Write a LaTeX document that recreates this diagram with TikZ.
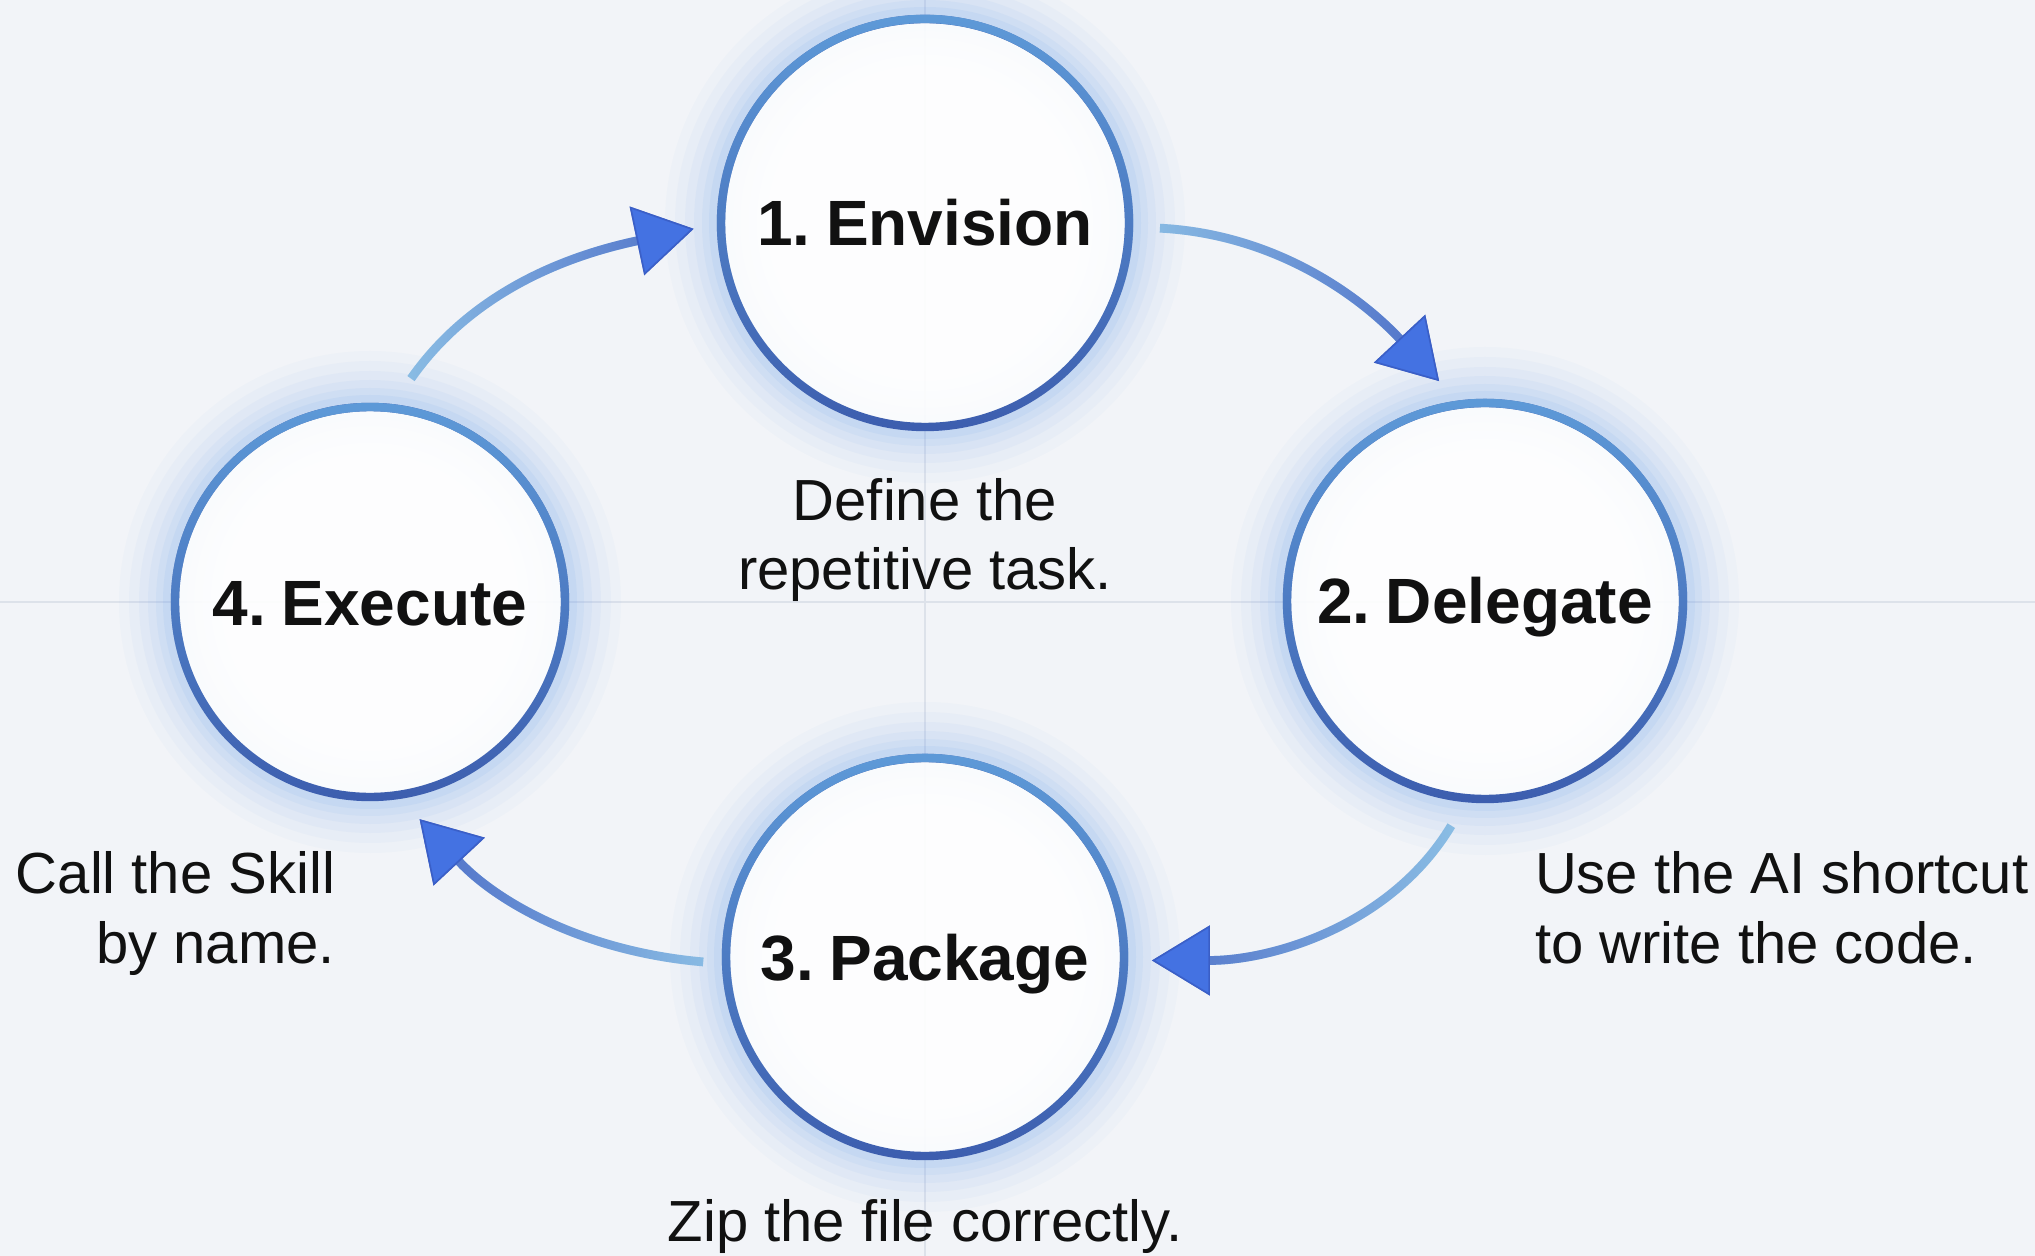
\documentclass[tikz,border=0pt]{standalone}
\usepackage{fontspec}
\setmainfont{Liberation Sans}
\usetikzlibrary{arrows.meta,fadings}

\definecolor{bg}{HTML}{F2F4F8}
\definecolor{gridc}{HTML}{DDE2EA}
\definecolor{glowc}{HTML}{6FA4F2}
\definecolor{bordDark}{HTML}{3D5EAF}
\definecolor{bordLight}{HTML}{5E9AD8}
\definecolor{arrLight}{HTML}{8EC2E6}
\definecolor{arrDark}{HTML}{4A69C6}
\definecolor{tipFill}{HTML}{4472E2}
\definecolor{tipDraw}{HTML}{3A5EC6}
\definecolor{ink}{HTML}{111111}

\tikzfading[name=fadeUp, top color=transparent!0, bottom color=transparent!100]
\tikzfading[name=fadeToRight, left color=transparent!100, right color=transparent!0]
\tikzfading[name=fadeToLeft, left color=transparent!0, right color=transparent!100]

\begin{document}
\begin{tikzpicture}[x=0.5pt,y=0.5pt,
  stage/.style={circle, inner sep=0pt, outer sep=0pt, fill=white, fill opacity=0.9,
    text opacity=1, text=ink,
    font=\fontsize{32pt}{38pt}\selectfont\bfseries,
    text height=23pt, text depth=0pt,
    preaction={draw=glowc, line width=56pt, draw opacity=0.035},
    preaction={draw=glowc, line width=46pt, draw opacity=0.045},
    preaction={draw=glowc, line width=36pt, draw opacity=0.055},
    preaction={draw=glowc, line width=27pt, draw opacity=0.065},
    preaction={draw=glowc, line width=19pt, draw opacity=0.08},
    preaction={draw=glowc, line width=12pt, draw opacity=0.1},
    postaction={draw=bordDark, line width=4.2pt, draw opacity=1},
    postaction={draw=bordLight, line width=4.2pt, draw opacity=1, path fading=fadeUp}},
  note/.style={inner sep=0pt, outer sep=0pt, text=ink,
    font=\fontsize{29pt}{35pt}\selectfont},
  flow/.style={line width=4.4pt,
    -{Triangle[length=29pt,width=35pt,fill=tipFill,color=tipDraw,line width=0.8pt]}},
]
% background
\fill[bg] (0,0) rectangle (2035,-1256);
\useasboundingbox (0,0) rectangle (2035,-1256);
\draw[gridc, line width=1pt] (925,0) -- (925,-1256);
\draw[gridc, line width=1pt] (0,-602) -- (2035,-602);

% stages
\node[stage, minimum size=204pt] (env) at (925,-223) {1.\hspace{-0.13em} Envision};
\node[stage, minimum size=198pt] (del) at (1485,-601) {2.\hspace{-0.13em} Delegate};
\node[stage, minimum size=199pt] (pkg) at (925,-957) {3.\hspace{-0.13em} Package};
\node[stage, minimum size=195pt] (exe) at (370,-602) {4.\hspace{-0.13em} Execute};

% notes (base anchor = baseline of the last line)
\node[note, anchor=base, align=center] (defn) at (925,-590) {Define the\\repetitive task.};
\node[note, anchor=base east, align=right] (calln) at (335,-963) {Call the Skill\\by name.};
\node[note, anchor=base west, align=left] (usen) at (1535,-963) {Use the AI shortcut\\to write the code.};
\node[note, anchor=base] (zipn) at (925,-1241) {Zip the file correctly.};

% connectors: light underlay + darker faded overlay
\draw[flow, arrLight, shorten <=18pt, shorten >=14pt] (exe.84) to[out=55, in=192] (env.180);
\draw[flow, arrDark, path fading=fadeToRight, shorten <=18pt, shorten >=14pt] (exe.84) to[out=55, in=192] (env.180);

\draw[flow, arrLight, shorten <=15.5pt, shorten >=16pt] (env.-1) to[out=-3, in=133] (del.97);
\draw[flow, arrDark, path fading=fadeToRight, shorten <=15.5pt, shorten >=16pt] (env.-1) to[out=-3, in=133] (del.97);

\draw[flow, arrLight, shorten <=16pt, shorten >=14pt] (del.265.5) to[out=239, in=0] (pkg.-1.5);
\draw[flow, arrDark, path fading=fadeToLeft, shorten <=16pt, shorten >=14pt] (del.265.5) to[out=239, in=0] (pkg.-1.5);

\draw[flow, arrLight, shorten <=11.5pt, shorten >=16.5pt] (pkg.182.8) to[out=175, in=-47] (exe.278);
\draw[flow, arrDark, path fading=fadeToLeft, shorten <=11.5pt, shorten >=16.5pt] (pkg.182.8) to[out=175, in=-47] (exe.278);
\end{tikzpicture}
\end{document}
